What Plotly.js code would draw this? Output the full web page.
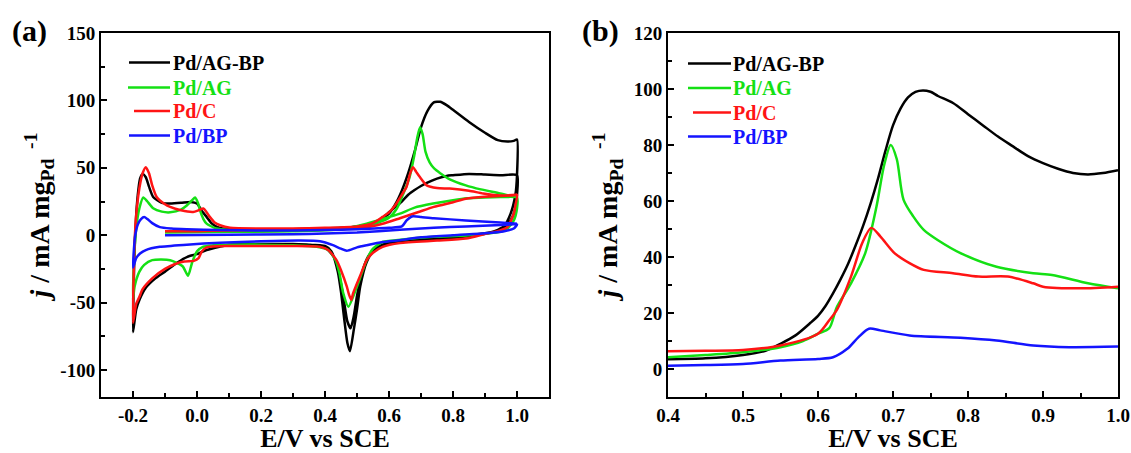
<!DOCTYPE html>
<html>
<head>
<meta charset="utf-8">
<script src="https://cdn.plot.ly/plotly-3.0.1.min.js"></script>
<style>html,body{margin:0;padding:0;background:#fff;}#chart{width:1131px;height:453px;}</style>
</head>
<body>
<div id="chart"></div>
<script>
// ---------- Series names & colours ----------
const seriesNames = ['Pd/AG-BP', 'Pd/AG', 'Pd/C', 'Pd/BP'];
const seriesColors = ['#000000', '#14e014', '#ff1414', '#1414ff'];

// ---------- Panel (a): cyclic voltammograms (E / V vs SCE, j / mA mg-1) ----------
const cvE_AGBP = [-0.10,0.00,0.10,0.20,0.30,0.40,0.45,0.50,0.53,0.56,0.58,0.60,0.62,0.64,0.66,0.68,0.70,0.72,0.75,0.78,0.80,0.85,0.90,0.95,1.00,
  1.00,0.995,0.98,0.96,0.93,0.90,0.85,0.80,0.70,0.62,0.58,0.55,0.53,0.51,0.50,0.49,0.48,0.47,0.46,0.45,0.43,0.40,0.35,0.30,0.20,0.10,0.07,0.03,0.01,0.00,-0.03,-0.06,-0.10,-0.13,-0.16,-0.18,-0.19,-0.20,
  -0.198,-0.195,-0.19,-0.185,-0.178,-0.17,-0.16,-0.15,-0.137,-0.11,-0.084,-0.05,-0.02,0.00,0.015,0.03,0.045,0.062,0.08,0.12,0.20,0.30,0.40,0.45,0.50,0.55,0.58,0.60,0.62,0.64,0.66,0.68,0.70,0.72,0.74,0.76,0.78,0.80,0.85,0.90,0.94,0.97,0.99,1.00,
  1.00,0.995,0.98,0.96,0.93,0.90,0.85,0.80,0.70,0.62,0.58,0.55,0.53,0.51,0.50,0.49,0.478,0.47,0.46,0.45,0.44,0.42,0.40,0.35];
const cvJ_AGBP = [2.5,2.5,2.8,3.0,3.3,4.0,4.5,5.5,7,10,13,17,21,25,30,33.5,36.5,39,42,44,44.5,45.5,45,44.5,44.5,
  30,20,11,6,3,1.5,0,-1.5,-3,-4.5,-7,-11,-18,-33,-45,-60,-69,-64,-50,-36,-17,-9,-7,-6.5,-6.5,-7,-8.5,-11,-13,-14,-16,-20,-27,-32,-39,-48,-55,-72,
  -40,-10,15,30,42,45.5,43,36,28.4,24,23.5,24,24.7,23.5,18,13.6,9,6.2,5,4.2,4,4.5,5,5.5,6.5,9,12.5,16,23,33,46,62,80,92,98.5,99,96.5,93,84,76,70.5,69.5,70,71,
  44.5,30,16,7,3,1,-0.5,-2,-3.5,-5,-7.5,-12,-20,-38,-55,-70,-86,-80,-62,-42,-27,-12,-8,-7];

const cvE_AG = [-0.10,0.10,0.30,0.45,0.53,0.58,0.634,0.68,0.738,0.80,0.843,0.90,0.99,1.00,
  1.00,0.99,0.97,0.947,0.85,0.74,0.65,0.58,0.55,0.53,0.50,0.473,0.457,0.445,0.433,0.41,0.374,0.30,0.20,0.10,0.05,0.02,0.00,-0.015,-0.028,-0.045,-0.084,-0.14,-0.165,-0.18,-0.195,-0.20,
  -0.197,-0.19,-0.18,-0.168,-0.155,-0.137,-0.11,-0.084,-0.05,-0.032,-0.015,-0.006,0.003,0.01,0.02,0.03,0.06,0.10,0.20,0.30,0.40,0.50,0.55,0.60,0.625,0.645,0.663,0.678,0.688,0.697,0.705,0.714,0.727,0.741,0.76,0.79,0.84,0.887,0.947,1.00];
const cvJ_AG = [2,2.5,3,4.5,8.6,12,16,20.5,23.5,26,27.4,28,28.4,28,
  20,11,5,2.5,0,-1.2,-3,-5,-10,-18.5,-38,-53,-43,-28,-18.5,-11,-8.6,-7.5,-7,-7,-7.5,-8.5,-12,-20,-30,-23,-18.5,-18.5,-22,-27,-38,-48,
  -20,5,20,28,25,20,17.5,17,19,22,26,28,24,18,12,8.6,5,4,3.5,3.8,4.5,6,8,13,20,31,42,58,72,80,75,62,54,49.5,46,41.5,37,34,31,28];

const cvE_C = [-0.10,0.00,0.10,0.20,0.30,0.40,0.53,0.58,0.634,0.69,0.74,0.80,0.84,0.90,0.99,1.00,
  0.995,0.99,0.97,0.94,0.905,0.84,0.75,0.634,0.58,0.55,0.53,0.51,0.488,0.482,0.475,0.468,0.45,0.436,0.41,0.384,0.30,0.20,0.10,0.03,0.015,0.005,-0.01,-0.04,-0.07,-0.10,-0.14,-0.17,-0.18,-0.19,-0.20,
  -0.198,-0.195,-0.19,-0.18,-0.17,-0.16,-0.15,-0.14,-0.126,-0.10,-0.084,-0.05,-0.012,0.005,0.02,0.03,0.04,0.055,0.072,0.103,0.20,0.30,0.40,0.50,0.55,0.58,0.60,0.62,0.64,0.655,0.665,0.675,0.685,0.697,0.718,0.75,0.79,0.85,0.894,0.95,1.00];
const cvJ_C = [3,3,3.5,4,4.5,5,6,8.5,12.6,17,21,24.5,27,28.5,29.6,30,
  22,16,6,3,1.2,-2.5,-4,-5.7,-8.6,-13,-18.5,-30,-43,-48,-44,-38,-26,-18.5,-11,-8.6,-8,-8,-8,-9,-12,-17,-19,-19.5,-21.5,-25,-32,-40,-45.7,-51,-65,
  -30,-5,15,35,46,50.5,46,37,28.4,23,21,18.5,17.3,18.5,19.8,17,13.6,9.5,7.4,5.5,5,5,5.5,6.5,9,13.6,17,22.5,30,36,45,50.4,47,43,37,35,34.6,33,31,29.5,30];

const cvE_BP = [-0.10,0.10,0.30,0.40,0.50,0.634,0.74,0.84,0.95,1.00,
  0.99,0.96,0.90,0.80,0.70,0.634,0.58,0.53,0.50,0.468,0.45,0.425,0.384,0.32,0.20,0.072,-0.032,-0.116,-0.16,-0.178,-0.19,-0.20,
  -0.197,-0.193,-0.185,-0.175,-0.165,-0.155,-0.14,-0.116,-0.08,-0.032,0.072,0.20,0.30,0.40,0.50,0.60,0.64,0.655,0.668,0.676,0.70,0.74,0.84,0.947,1.00];
const cvJ_BP = [0,0.3,0.8,1.2,2,4,5.5,6.5,7.5,8,
  5,3,1.5,0,-1.5,-3.7,-5,-7.4,-9,-11.5,-10,-7.4,-4.5,-4,-4.5,-5.5,-7,-8.6,-11,-13.6,-17,-24,
  -10,0,8,12,13.5,12,9,6,5,4.5,3.8,3.5,3.5,3.8,4.5,5.5,6.5,11,13.5,14,13.5,12.6,11,9.4,8.6];

// ---------- Panel (b): linear sweep curves ----------
const lsvE_AGBP = [0.40,0.45,0.50,0.53,0.55,0.57,0.59,0.60,0.61,0.62,0.63,0.64,0.65,0.66,0.67,0.68,0.69,0.70,0.71,0.72,0.73,0.74,0.75,0.76,0.78,0.80,0.82,0.84,0.86,0.88,0.90,0.92,0.94,0.96,0.98,1.00];
const lsvJ_AGBP = [3.5,3.8,5.0,6.5,9,12,16.5,19,22.5,27,32,37.5,44,51,59,68,78,87,93,97,99,99.5,99,97.5,95,91,87,83,79.5,76,73.5,71.5,70,69.5,70,71];

const lsvE_AG = [0.40,0.45,0.50,0.55,0.58,0.60,0.615,0.625,0.644,0.663,0.678,0.688,0.697,0.705,0.714,0.727,0.741,0.76,0.79,0.838,0.887,0.912,0.96,1.00];
const lsvJ_AG = [4.2,5,6,7.8,10,12.6,14.6,22,30.6,41.4,58,72.6,80,75,60.5,54.5,49.7,46,41.4,36.5,34.2,33.6,30.6,28.8];

const lsvE_C = [0.40,0.45,0.50,0.55,0.60,0.615,0.625,0.644,0.659,0.671,0.683,0.702,0.722,0.741,0.78,0.814,0.853,0.887,0.90,0.95,1.00];
const lsvJ_C = [6.3,6.5,6.8,8.4,12.6,17.4,21,33,45,50.4,47.4,41.4,37.8,35.4,34.2,33,33,30.6,29.4,28.8,29.4];

const lsvE_BP = [0.40,0.45,0.50,0.55,0.60,0.62,0.639,0.654,0.668,0.683,0.722,0.79,0.838,0.887,0.935,1.00];
const lsvJ_BP = [1.2,1.4,1.8,3,3.6,4.2,7.2,11.4,14.4,13.8,12,11.2,10.2,8.4,7.8,8];

// ---------- Axis ticks ----------
const xTicksA = [-0.2, 0.0, 0.2, 0.4, 0.6, 0.8, 1.0];
const yTicksA = [-100, -50, 0, 50, 100, 150];
const xTicksB = [0.4, 0.5, 0.6, 0.7, 0.8, 0.9, 1.0];
const yTicksB = [0, 20, 40, 60, 80, 100, 120];

const cvE = [cvE_AGBP, cvE_AG, cvE_C, cvE_BP];
const cvJ = [cvJ_AGBP, cvJ_AG, cvJ_C, cvJ_BP];
const lsvE = [lsvE_AGBP, lsvE_AG, lsvE_C, lsvE_BP];
const lsvJ = [lsvJ_AGBP, lsvJ_AG, lsvJ_C, lsvJ_BP];

const FONT = '"Liberation Serif", "Times New Roman", Times, serif';

const traces = [];
for (let i = 0; i < 4; i++) {
  traces.push({
    x: cvE[i], y: cvJ[i], type: 'scatter', mode: 'lines', name: seriesNames[i],
    line: {color: seriesColors[i], width: 2.5, shape: 'spline', smoothing: 0.6},
    xaxis: 'x', yaxis: 'y', hoverinfo: 'skip', showlegend: false
  });
}
for (let i = 0; i < 4; i++) {
  traces.push({
    x: lsvE[i], y: lsvJ[i], type: 'scatter', mode: 'lines', name: seriesNames[i],
    line: {color: seriesColors[i], width: 2.5, shape: 'spline', smoothing: 0.8},
    xaxis: 'x2', yaxis: 'y2', hoverinfo: 'skip', showlegend: false
  });
}

const tickFont = {family: FONT, size: 19, color: '#000', weight: 'bold'};
const xTitleFont = {family: FONT, size: 26, color: '#000', weight: 'bold'};
const yTitleFont = {family: FONT, size: 28, color: '#000', weight: 'bold'};
// small gap before the exponent and trailing spacing as in the original figure
const yTitleText = '<i>j</i> / mA mg<sub>Pd</sub><sup>\u00a0\u00a0-1</sup>\u00a0\u00a0\u00a0\u00a0\u00a0';

function axisBase(extra) {
  return Object.assign({
    showline: true, mirror: true, linecolor: '#000', linewidth: 2,
    ticks: 'inside', ticklen: 6, tickwidth: 2, tickcolor: '#000',
    showgrid: false, zeroline: false, tickfont: tickFont, fixedrange: true
  }, extra);
}

// plot-area geometry in pixels
const M = {l: 101, r: 13, t: 33, b: 56};
const PW = 1131 - M.l - M.r, PH = 453 - M.t - M.b;
const px = (x) => (x - M.l) / PW;
const py = (y) => 1 - (y - M.t) / PH;

const layout = {
  width: 1131, height: 453,
  paper_bgcolor: '#fff', plot_bgcolor: '#fff',
  margin: M,
  showlegend: false,
  xaxis: axisBase({
    domain: [0, px(549)], anchor: 'y', range: [-0.3, 1.1],
    tickmode: 'array', tickvals: xTicksA, ticktext: xTicksA.map(v => v.toFixed(1)),
    minor: {ticks: 'inside', ticklen: 4, tickwidth: 2, tickcolor: '#000', dtick: 0.1, tick0: 0},
    title: {text: 'E/V vs SCE', font: xTitleFont, standoff: 17}
  }),
  yaxis: axisBase({
    domain: [0, 1], anchor: 'x', range: [-120, 150],
    tickmode: 'array', tickvals: yTicksA, ticktext: yTicksA.map(String),
    minor: {ticks: 'inside', ticklen: 4, tickwidth: 2, tickcolor: '#000', dtick: 25, tick0: 0},
    title: {text: yTitleText, font: yTitleFont, standoff: 3}
  }),
  xaxis2: axisBase({
    domain: [px(668), 1], anchor: 'y2', range: [0.4, 1.0],
    tickmode: 'array', tickvals: xTicksB, ticktext: xTicksB.map(v => v.toFixed(1)),
    minor: {ticks: 'inside', ticklen: 4, tickwidth: 2, tickcolor: '#000', dtick: 0.05, tick0: 0},
    title: {text: 'E/V vs SCE', font: xTitleFont, standoff: 17}
  }),
  yaxis2: axisBase({
    domain: [0, 1], anchor: 'x2', range: [-10, 120],
    tickmode: 'array', tickvals: yTicksB, ticktext: yTicksB.map(String),
    minor: {ticks: 'inside', ticklen: 4, tickwidth: 2, tickcolor: '#000', dtick: 10, tick0: 0},
    title: {text: yTitleText, font: yTitleFont, standoff: 8}
  }),
  shapes: [],
  annotations: [
    {text: '(a)', x: px(29), y: py(31), xref: 'paper', yref: 'paper', showarrow: false,
     xanchor: 'center', yanchor: 'middle', font: {family: FONT, size: 30, color: '#000', weight: 'bold'}},
    {text: '(b)', x: px(600), y: py(31), xref: 'paper', yref: 'paper', showarrow: false,
     xanchor: 'center', yanchor: 'middle', font: {family: FONT, size: 30, color: '#000', weight: 'bold'}}
  ]
};

// Legends drawn as line samples + coloured bold labels
const legendRowsA = [62.5, 87.5, 111, 135.5];
const legendRowsB = [63.5, 88, 112.5, 136.5];
function addLegend(lineX0, lineX1, textX, rows) {
  rows.forEach((y, i) => {
    layout.shapes.push({type: 'line', xref: 'paper', yref: 'paper',
      x0: px(lineX0[i]), x1: px(lineX1), y0: py(y), y1: py(y),
      line: {color: seriesColors[i], width: 2.5}});
    layout.annotations.push({text: seriesNames[i], xref: 'paper', yref: 'paper',
      x: px(textX), y: py(y), xanchor: 'left', yanchor: 'middle', showarrow: false,
      font: {family: FONT, size: 20, color: seriesColors[i], weight: 'bold'}});
  });
}
addLegend([129, 128, 134, 129], 170, 171, legendRowsA);
addLegend([688, 688, 693, 688], 731, 731, legendRowsB);

Plotly.newPlot('chart', traces, layout, {staticPlot: true, displayModeBar: false});
</script>
</body>
</html>
